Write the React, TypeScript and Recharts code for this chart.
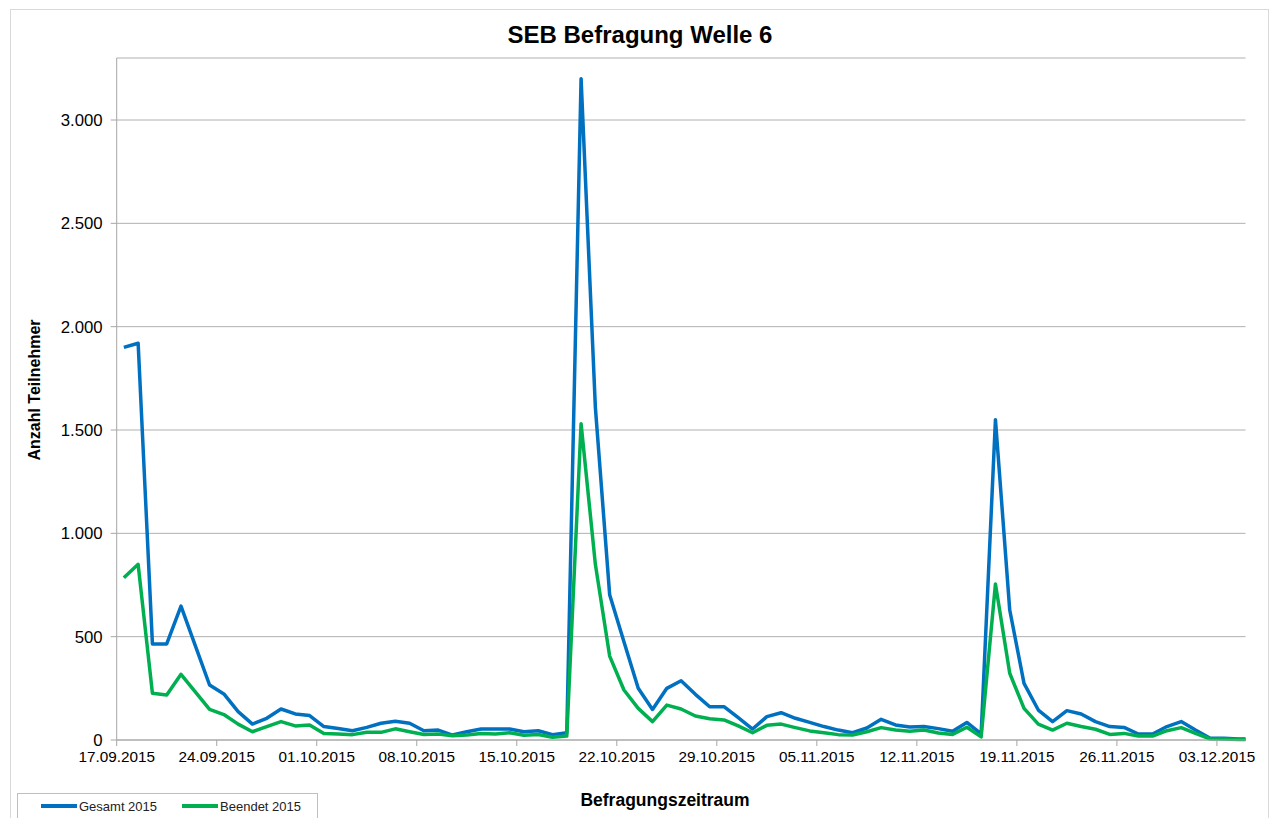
import React from "react"
import { LineChart, Line, XAxis, YAxis, CartesianGrid } from "recharts"

// daily participants from 17.09.2015 onwards
const gesamt2015 = [
  1900, 1920, 465, 465, 648, 457, 266, 223, 137, 77, 105, 150, 126, 118, 65, 56, 45, 61, 81, 91,
  81, 45, 48, 24, 40, 53, 53, 53, 40, 45, 26, 35, 3200, 1610, 703, 475, 250, 148, 250, 287,
  221, 161, 161, 108, 53, 113, 132, 105, 85, 65, 48, 35, 58, 100, 73, 63, 65, 55, 42, 85,
  30, 1550, 629, 274, 145, 89, 142, 126, 89, 65, 61, 29, 29, 65, 89, 48, 10, 8, 5, 4,
]

const beendet2015 = [
  785, 850, 226, 218, 318, 233, 148, 123, 77, 40, 65, 89, 68, 73, 31, 29, 26, 37, 37, 54,
  40, 27, 29, 21, 24, 32, 29, 35, 23, 27, 13, 19, 1530, 850, 406, 242, 153, 89, 169, 150,
  116, 103, 97, 68, 35, 71, 77, 60, 44, 35, 26, 24, 40, 60, 48, 42, 48, 34, 27, 62,
  15, 755, 323, 153, 77, 48, 81, 65, 52, 27, 32, 19, 19, 45, 60, 32, 6, 5, 3, 3,
]

// weekly date ticks (days since 17.09.2015)
const tickDays = [0, 7, 14, 21, 28, 35, 42, 49, 56, 63, 70, 77]
const tickLabels = [
  "17.09.2015", "24.09.2015", "01.10.2015", "08.10.2015", "15.10.2015", "22.10.2015",
  "29.10.2015", "05.11.2015", "12.11.2015", "19.11.2015", "26.11.2015", "03.12.2015",
]
const yTicks = [0, 500, 1000, 1500, 2000, 2500, 3000]

const FONT = "'Liberation Sans', Arial, sans-serif"
const BLUE = "#0070c0"
const GREEN = "#00b050"

const series = [
  { key: "gesamt", name: "Gesamt 2015", color: BLUE },
  { key: "beendet", name: "Beendet 2015", color: GREEN },
]

// each day sits in the middle of its date slot
const data = gesamt2015.map((v, i) => ({
  t: i + 0.5,
  gesamt: v,
  beendet: beendet2015[i],
}))

const formatThousands = (v: number) => v.toLocaleString("de-DE")
const formatDay = (d: number) => tickLabels[tickDays.indexOf(d)] ?? ""

const boldText = {
  position: "absolute" as const,
  whiteSpace: "nowrap" as const,
  fontFamily: FONT,
  fontWeight: "bold" as const,
  color: "#000",
}

export default function App() {
  return (
    <div style={{ position: "relative", width: 1271, height: 818, overflow: "hidden", background: "#fff" }}>
      <style>{"body{margin:0;overflow:hidden}"}</style>
      <div
        style={{
          position: "absolute",
          left: 10,
          top: 9,
          width: 1259,
          height: 820,
          border: "1px solid #d9d9d9",
          boxSizing: "border-box",
        }}
      />
      <div style={{ ...boldText, left: 9, right: 0, top: 21, textAlign: "center", fontSize: 24 }}>
        SEB Befragung Welle 6
      </div>
      <div
        style={{ ...boldText, left: 35, top: 390, transform: "translate(-50%, -50%) rotate(-90deg)", fontSize: 16 }}
      >
        Anzahl Teilnehmer
      </div>
      <div style={{ ...boldText, left: 665, top: 800, transform: "translate(-50%, -50%)", fontSize: 17.5 }}>
        Befragungszeitraum
      </div>

      <div style={{ position: "absolute", left: 0, top: 0 }}>
        <LineChart
          width={1271}
          height={818}
          data={data}
          margin={{ top: 58, right: 25.5, left: 16.7, bottom: 48 }}
        >
          <CartesianGrid vertical={false} stroke="#b0b0b0" />
          <XAxis
            dataKey="t"
            type="number"
            domain={[0, 79]}
            allowDataOverflow
            ticks={tickDays}
            interval={0}
            tickFormatter={formatDay}
            height={30}
            stroke="#a6a6a6"
            tickSize={6}
            tickMargin={5}
            tick={{ fill: "#000", fontSize: 15.3, fontFamily: FONT }}
          />
          <YAxis
            type="number"
            domain={[0, 3300]}
            ticks={yTicks}
            interval={0}
            tickFormatter={formatThousands}
            width={100}
            stroke="#a6a6a6"
            tickSize={6}
            tickMargin={8}
            tick={{ fill: "#000", fontSize: 16.8, fontFamily: FONT }}
          />
          {series.map((s) => (
            <Line
              key={s.key}
              type="linear"
              dataKey={s.key}
              name={s.name}
              stroke={s.color}
              strokeWidth={3.5}
              strokeLinejoin="round"
              dot={false}
              activeDot={false}
              isAnimationActive={false}
            />
          ))}
        </LineChart>
      </div>

      <div
        style={{
          position: "absolute",
          left: 17,
          top: 793,
          width: 301,
          height: 30,
          border: "1px solid #bfbfbf",
          boxSizing: "border-box",
          display: "flex",
          alignItems: "center",
          paddingLeft: 23,
          paddingBottom: 4,
          fontFamily: FONT,
          fontSize: 13,
          color: "#222",
          whiteSpace: "nowrap",
        }}
      >
        {series.map((s) => (
          <div key={s.key} style={{ display: "flex", alignItems: "center", flexShrink: 0, marginRight: 25 }}>
            <span
              style={{ display: "inline-block", flexShrink: 0, width: 36, height: 3.5, background: s.color, marginRight: 2 }}
            />
            <span>{s.name}</span>
          </div>
        ))}
      </div>
    </div>
  )
}
